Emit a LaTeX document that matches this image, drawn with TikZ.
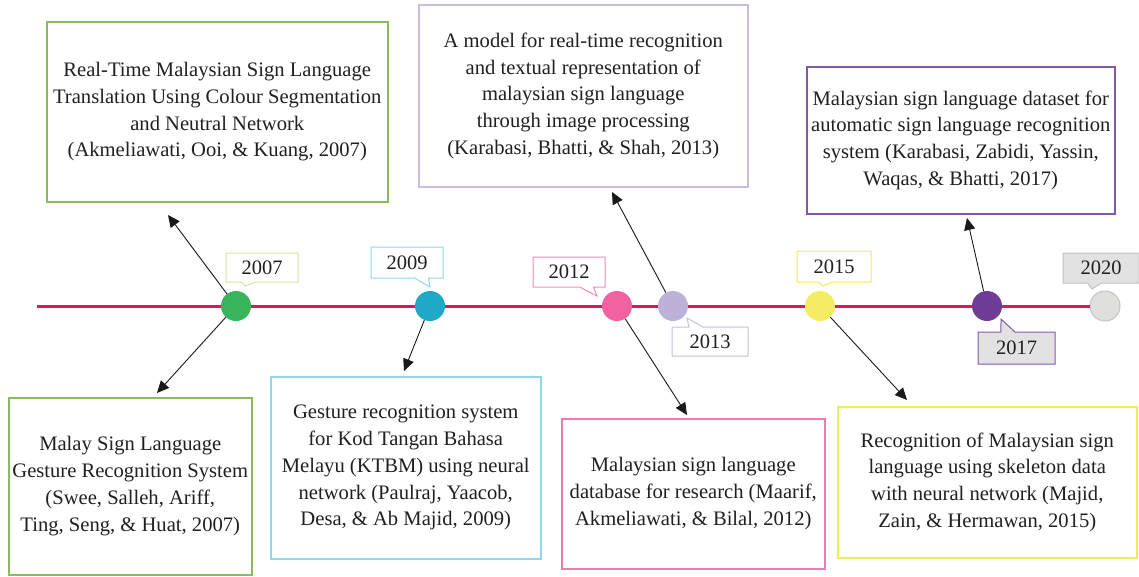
\documentclass[tikz,border=0pt]{standalone}
\usepackage{fontspec}
\setmainfont{Liberation Serif}
\usetikzlibrary{shapes.callouts,arrows.meta}
\definecolor{tline}{HTML}{E8125C}
\definecolor{cgreen}{HTML}{38B55C}
\definecolor{bgreen}{HTML}{8CBB5C}
\definecolor{lgreen}{HTML}{D5E3A3}
\definecolor{cteal}{HTML}{1FA9C7}
\definecolor{bteal}{HTML}{8ED8EF}
\definecolor{cpink}{HTML}{F063A0}
\definecolor{bpink}{HTML}{F07AAF}
\definecolor{lpink}{HTML}{F48CBB}
\definecolor{clav}{HTML}{BEB1D7}
\definecolor{blav}{HTML}{C8BDE0}
\definecolor{cyel}{HTML}{F4EC63}
\definecolor{byel}{HTML}{F2EA56}
\definecolor{cpur}{HTML}{6F3C97}
\definecolor{bpur}{HTML}{8656AC}
\definecolor{cgray}{HTML}{DFDFDE}
\definecolor{bgray}{HTML}{C3C3C3}
\definecolor{fgray}{HTML}{E2E2E2}
\definecolor{txt}{HTML}{231F20}
\begin{document}
\begin{tikzpicture}[x=1pt,y=-1pt,
  txtbox/.style={draw, line width=1.5pt, inner sep=0pt, align=center, text=txt,
    font=\fontsize{20.6}{26.8}\selectfont, anchor=north west},
  dot/.style={circle, minimum size=30pt, inner sep=0pt},
  yr/.style={rectangle callout, line width=1pt, inner sep=0pt, text=txt,
    font=\fontsize{20.5}{22}\selectfont, callout pointer width=14pt},
  arr/.style={-{Triangle[length=12pt,width=11pt]}, line width=0.9pt, black!90}]
\useasboundingbox (0,0) rectangle (1139,576);
\fill[white] (0,0) rectangle (1139,576);

% timeline
\coordinate (ls) at (37,306);
\node[dot, fill=cgray, draw=bgray, line width=1pt] (c2020) at (1105,306) {};
\draw[tline, line width=3pt] (ls) -- (c2020.west);

\node[dot, fill=cgreen] (c2007) at (236,306) {};
\node[dot, fill=cteal] (c2009) at (430,306) {};
\node[dot, fill=cpink] (c2012) at (617,306) {};
\node[dot, fill=clav] (c2013) at (673,306) {};
\node[dot, fill=cyel] (c2015) at (820,306) {};
\node[dot, fill=cpur] (c2017) at (987,306) {};

% year callouts
\node[yr, draw=lgreen, fill=white, minimum width=72pt, minimum height=29pt,
  callout absolute pointer={(245,286)}] (y2007) at (262,267.5) {2007};
\node[yr, draw=bteal, fill=white, minimum width=72pt, minimum height=31pt,
  callout absolute pointer={(430,287)}] (y2009) at (407,262.5) {2009};
\node[yr, draw=lpink, fill=white, minimum width=72pt, minimum height=30pt,
  callout absolute pointer={(597,296)}] (y2012) at (569,272) {2012};
\node[yr, draw=blav, fill=white, minimum width=76pt, minimum height=29pt,
  callout absolute pointer={(687,318)}] (y2013) at (710,341.5) {2013};
\node[yr, draw=byel, fill=white, minimum width=74pt, minimum height=31pt,
  callout absolute pointer={(823,286)}] (y2015) at (834,266.5) {2015};
\node[yr, draw=bpur, fill=fgray, minimum width=77pt, minimum height=32pt,
  callout absolute pointer={(1001,319)}] (y2017) at (1016.5,348) {2017};
\node[yr, draw=bgray, fill=fgray, minimum width=76pt, minimum height=30pt,
  callout absolute pointer={(1092,289)}] (y2020) at (1101,268) {2020};

% text boxes
\node[txtbox, draw=bgreen, minimum width=341pt, minimum height=180pt] (b1) at (46,21)
  {Real-Time Malaysian Sign Language\\Translation Using Colour Segmentation\\and Neutral Network\\(Akmeliawati, Ooi, \& Kuang, 2007)};
\node[txtbox, draw=bgreen, minimum width=243pt, minimum height=177pt] (b2) at (8,397)
  {Malay Sign Language\\Gesture Recognition System\\(Swee, Salleh, Ariff,\\Ting, Seng, \& Huat, 2007)};
\node[txtbox, draw=bteal, minimum width=270pt, minimum height=182pt] (b3) at (270,376)
  {Gesture recognition system\\for Kod Tangan Bahasa\\Melayu (KTBM) using neural\\network (Paulraj, Yaacob,\\Desa, \& Ab Majid, 2009)};
\node[txtbox, draw=blav, minimum width=329pt, minimum height=182pt] (b4) at (418,4)
  {A model for real-time recognition\\and textual representation of\\malaysian sign language\\through image processing\\(Karabasi, Bhatti, \& Shah, 2013)};
\node[txtbox, draw=bpink, minimum width=263pt, minimum height=150pt] (b5) at (561,418)
  {Malaysian sign language\\database for research (Maarif,\\Akmeliawati, \& Bilal, 2012)};
\node[txtbox, draw=bpur, minimum width=308pt, minimum height=147pt] (b6) at (806,66)
  {Malaysian sign language dataset for\\automatic sign language recognition\\system (Karabasi, Zabidi, Yassin,\\Waqas, \& Bhatti, 2017)};
\node[txtbox, draw=byel, minimum width=299pt, minimum height=151pt] (b7) at (837,406)
  {Recognition of Malaysian sign\\language using skeleton data\\with neural network (Majid,\\Zain, \& Hermawan, 2015)};

% arrows
\coordinate (a1) at (168,215);
\coordinate (a2) at (157,393);
\coordinate (a3) at (404,371);
\coordinate (a4) at (612,192);
\coordinate (a5) at (687,415);
\coordinate (a6) at (967,218);
\coordinate (a7) at (907,400);
\draw[arr] (c2007) -- (a1);
\draw[arr] (c2007) -- (a2);
\draw[arr] (c2009) -- (a3);
\draw[arr] (c2013) -- (a4);
\draw[arr] (c2012) -- (a5);
\draw[arr] (c2017) -- (a6);
\draw[arr] (c2015) -- (a7);
\end{tikzpicture}
\end{document}
